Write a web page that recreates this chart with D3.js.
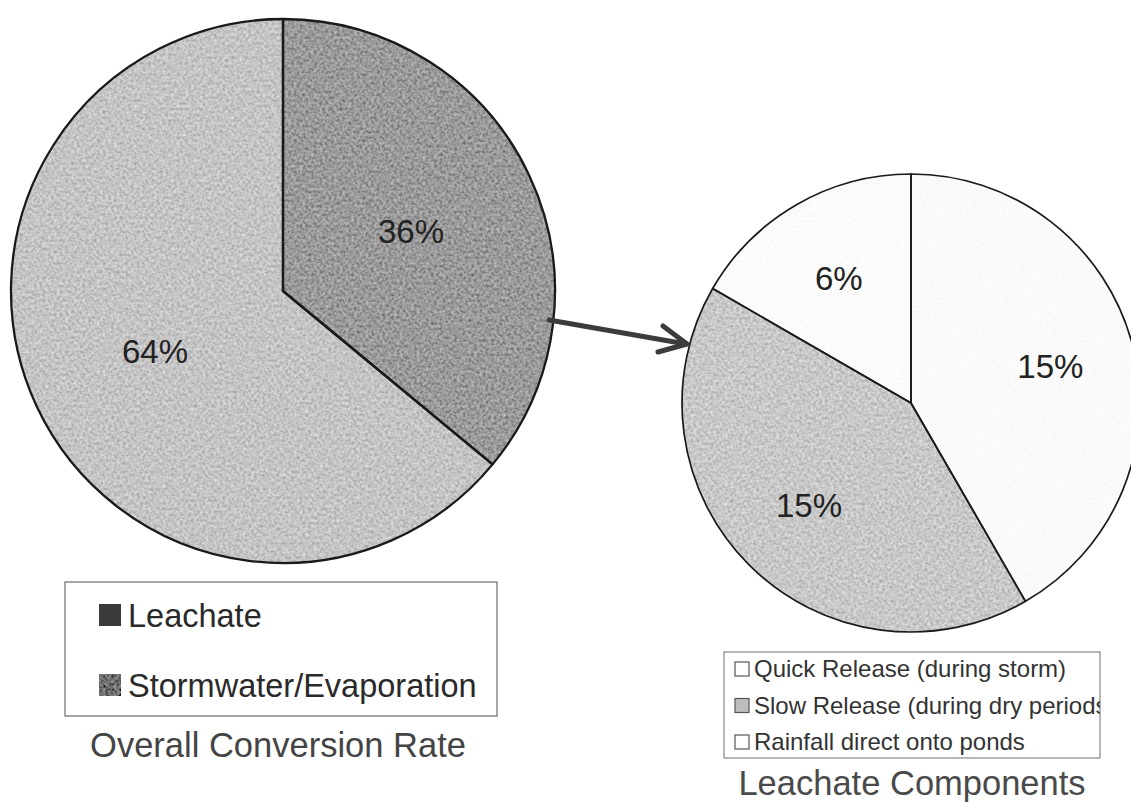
<!DOCTYPE html>
<html>
<head>
<meta charset="utf-8">
<script src="https://cdn.jsdelivr.net/npm/d3@7"></script>
<style>
  html, body { margin: 0; padding: 0; background: #fff; }
  svg { display: block; }
  text { font-family: "Liberation Sans", Arial, Helvetica, sans-serif; }
</style>
</head>
<body>
<svg id="chart" width="1131" height="802"></svg>
<script>
// Overall conversion of rainfall
const overallLabels = ["Leachate", "Stormwater/Evaporation"];
const overallValues = [36, 64];
const overallFills = ["#9a9a9a", "#c4c4c4"];
const overallSwatches = ["#3a3a3a", "#6e6e6e"];

// Breakdown of the leachate share
const componentLabels = ["Quick Release (during storm)", "Slow Release (during dry periods)", "Rainfall direct onto ponds"];
const componentValues = [15, 15, 6];
const componentFills = ["#fafafa", "#c8c8c8", "#fbfbfb"];

const overallTitle = "Overall Conversion Rate";
const componentTitle = "Leachate Components";

const svg = d3.select("#chart");
svg.append("rect").attr("width", 1131).attr("height", 802).attr("fill", "#fff");

// grainy print texture for the filled slices
const defs = svg.append("defs");
function grain(id, amount, freq) {
  const f = defs.append("filter").attr("id", id)
    .attr("x", 0).attr("y", 0).attr("width", 1).attr("height", 1);
  f.append("feTurbulence").attr("type", "fractalNoise")
    .attr("baseFrequency", freq).attr("numOctaves", 2).attr("seed", 7).attr("result", "noise");
  f.append("feColorMatrix").attr("in", "noise").attr("type", "matrix")
    .attr("values", "1 0 0 0 0  1 0 0 0 0  1 0 0 0 0  0 0 0 0 1").attr("result", "gray");
  f.append("feComposite").attr("in", "SourceGraphic").attr("in2", "gray")
    .attr("operator", "arithmetic").attr("k1", 0).attr("k2", 1).attr("k3", amount).attr("k4", -amount / 2)
    .attr("result", "mix");
  f.append("feComposite").attr("in", "mix").attr("in2", "SourceGraphic").attr("operator", "in");
}
grain("grainStrong", 0.55, 0.35);
grain("grainSoft", 0.1, 0.35);

const pie = d3.pie().sort(null).startAngle(0).endAngle(2 * Math.PI);

function drawPie(values, fills, cx, cy, r, labelFactor, strokeW, grainIds) {
  const g = svg.append("g").attr("transform", `translate(${cx},${cy})`);
  const arcs = pie(values);
  const arc = d3.arc().innerRadius(0).outerRadius(r);
  const labelArc = d3.arc().innerRadius(r * labelFactor).outerRadius(r * labelFactor);
  g.selectAll("path.fill").data(arcs).enter().append("path")
    .attr("class", "fill")
    .attr("d", arc)
    .attr("fill", (d, i) => fills[i])
    .attr("filter", (d, i) => `url(#${grainIds[i]})`);
  g.selectAll("path.edge").data(arcs).enter().append("path")
    .attr("class", "edge")
    .attr("d", arc)
    .attr("fill", "none")
    .attr("stroke", "#1a1a1a")
    .attr("stroke-width", strokeW)
    .attr("stroke-linejoin", "round");
  g.selectAll("text.pct").data(arcs).enter().append("text")
    .attr("class", "pct")
    .attr("transform", d => `translate(${labelArc.centroid(d)})`)
    .attr("text-anchor", "middle")
    .attr("dy", "0.36em")
    .attr("font-size", 33)
    .attr("fill", "#222")
    .text(d => d.data + "%");
  return g;
}

drawPie(overallValues, overallFills, 283, 291, 272, 0.52, 2.3, ["grainStrong", "grainStrong"]);
drawPie(componentValues, componentFills, 911, 403, 229, 0.63, 1.7, ["grainSoft", "grainStrong", "grainSoft"]);

// arrow linking the leachate slice to its breakdown
const arrow = svg.append("g")
  .attr("stroke", "#3c3c3c").attr("stroke-width", 5)
  .attr("stroke-linecap", "round").attr("fill", "none");
arrow.append("path").attr("d", d3.line()([[549, 320], [686, 344]]));
arrow.append("path").attr("d", d3.line()([[663, 326], [687, 344], [658, 352]]))
  .attr("stroke-linejoin", "round");

// left legend
const lg = svg.append("g");
lg.append("rect").attr("x", 65).attr("y", 582).attr("width", 432).attr("height", 134)
  .attr("fill", "#fff").attr("stroke", "#777").attr("stroke-width", 1.3);
const lgY = d3.scalePoint().domain(overallLabels).range([627, 697]);
overallLabels.forEach((name, i) => {
  lg.append("rect").attr("x", 99).attr("y", lgY(name) - 23).attr("width", 22).attr("height", 22)
    .attr("fill", overallSwatches[i]).attr("filter", i === 1 ? "url(#grainStrong)" : null);
  lg.append("text").attr("x", 128).attr("y", lgY(name))
    .attr("font-size", 32.5).attr("fill", "#2a2a2a").text(name);
});
svg.append("text").attr("x", 278).attr("y", 757).attr("text-anchor", "middle")
  .attr("font-size", 34.5).attr("fill", "#444").text(overallTitle);

// right legend
const rg = svg.append("g");
defs.append("clipPath").attr("id", "rlegClip")
  .append("rect").attr("x", 724).attr("y", 652).attr("width", 376).attr("height", 106);
rg.append("rect").attr("x", 724).attr("y", 652).attr("width", 376).attr("height", 106)
  .attr("fill", "#fff").attr("stroke", "#888").attr("stroke-width", 1.2);
const rgY = d3.scalePoint().domain(componentLabels).range([677, 750]);
const rgItems = rg.append("g").attr("clip-path", "url(#rlegClip)");
componentLabels.forEach((name, i) => {
  rgItems.append("rect").attr("x", 735).attr("y", rgY(name) - 15).attr("width", 14).attr("height", 14)
    .attr("fill", i === 1 ? "#bdbdbd" : "#fff").attr("stroke", "#555").attr("stroke-width", 1.2);
  rgItems.append("text").attr("x", 754).attr("y", rgY(name))
    .attr("font-size", 24).attr("fill", "#333").text(name);
});
svg.append("text").attr("x", 912).attr("y", 795).attr("text-anchor", "middle")
  .attr("font-size", 34.5).attr("fill", "#4a4a4a").text(componentTitle);
</script>
</body>
</html>
